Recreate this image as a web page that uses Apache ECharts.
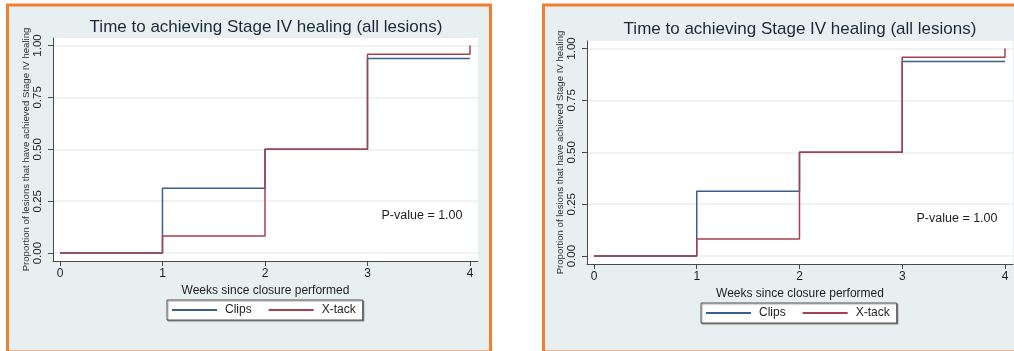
<!DOCTYPE html>
<html>
<head>
<meta charset="utf-8">
<script src="https://cdn.jsdelivr.net/npm/echarts@6/dist/echarts.min.js"></script>
<style>html,body{margin:0;padding:0;background:#fff;}#c{width:1014px;height:351px;}</style>
</head>
<body>
<div id="c"></div>
<script>
// ---- data ----
const weeks = [0, 1, 2, 3, 4];
const clipsProp = [0, 0.3125, 0.5, 0.9375, 0.9375];
const xtackProp = [0, 0.083, 0.5, 0.958, 1.0];
const xTicks = [0, 1, 2, 3, 4];
const yTicks = [0, 0.25, 0.5, 0.75, 1];
const seriesNames = ['Clips', 'X-tack'];
const titleText = 'Time to achieving Stage IV healing (all lesions)';
const xName = 'Weeks since closure performed';
const yName = 'Proportion of lesions that have achieved Stage IV healing';
const pText = 'P-value = 1.00';

const FONT = '"Liberation Sans", Arial, sans-serif';
const BLUE = '#3a5f8e';
const RED = '#a6404f';
const AX = '#4a4a4a';

const panels = [
  {grid: {left: 53, top: 38, width: 425, height: 223}, legend: {left: 167, top: 300}, px: 422, py: 216, tx: 266, ty: 27},
  {grid: {left: 587, top: 41, width: 426, height: 223}, legend: {left: 701, top: 303}, px: 957, py: 219, tx: 800, ty: 29}
];

const grids = [], xAxes = [], yAxes = [], series = [], legends = [], graphics = [];

graphics.push({type: 'rect', z: -10, shape: {x: 7.5, y: 5, width: 483, height: 347}, style: {fill: '#e7eff1', stroke: '#f07f2e', lineWidth: 3}});
graphics.push({type: 'rect', z: -10, shape: {x: 543.5, y: 5, width: 520, height: 347}, style: {fill: '#e7eff1', stroke: '#f07f2e', lineWidth: 3}});

panels.forEach((p, i) => {
  grids.push(Object.assign({show: true, backgroundColor: '#ffffff', borderWidth: 0}, p.grid));
  xAxes.push({
    type: 'value', gridIndex: i, min: -0.068, max: 4.078,
    name: xName, nameLocation: 'middle', nameGap: 20,
    nameTextStyle: {fontFamily: FONT, fontSize: 12, color: '#1e1e1e'},
    axisLine: {show: true, onZero: false, lineStyle: {color: AX, width: 1}},
    axisTick: {show: true, length: 5, customValues: xTicks, lineStyle: {color: AX}},
    axisLabel: {customValues: xTicks, margin: 7, fontFamily: FONT, fontSize: 12, color: '#1e1e1e'},
    splitLine: {show: false}
  });
  yAxes.push({
    type: 'value', gridIndex: i, min: -0.038, max: 1.036,
    name: yName, nameLocation: 'middle', nameGap: 22, nameRotate: 90,
    nameTextStyle: {fontFamily: FONT, fontSize: 9.6, color: '#333'},
    axisLine: {show: true, onZero: false, lineStyle: {color: AX, width: 1}},
    axisTick: {show: true, length: 5, customValues: yTicks, lineStyle: {color: AX}},
    axisLabel: {customValues: yTicks, rotate: 90, margin: 9, fontFamily: FONT, fontSize: 11.5, color: '#1e1e1e',
      formatter: v => v.toFixed(2)},
    splitLine: {show: true, lineStyle: {color: '#e9eff0', width: 1.5}}
  });
  const mk = (name, vals, color) => ({
    name: name, type: 'line', xAxisIndex: i, yAxisIndex: i, step: 'end', symbol: 'none',
    data: weeks.map((w, k) => [w, vals[k]]),
    lineStyle: {color: color, width: 1.5}, itemStyle: {color: color}, animation: false
  });
  series.push(mk(seriesNames[0], clipsProp, BLUE));
  series.push(mk(seriesNames[1], xtackProp, RED));
  legends.push({
    data: seriesNames, left: p.legend.left, top: p.legend.top, orient: 'horizontal',
    icon: 'rect', itemWidth: 45, itemHeight: 2, itemGap: 17,
    backgroundColor: '#ffffff', borderColor: '#555', borderWidth: 1, borderRadius: 0,
    shadowColor: 'rgba(0,0,0,0.35)', shadowOffsetX: 1, shadowOffsetY: 1, shadowBlur: 1,
    padding: [4, 7, 4, 5], selectedMode: false,
    textStyle: {fontFamily: FONT, fontSize: 12, color: '#1e1e1e', padding: [0, 0, 0, 3]}
  });
  graphics.push({type: 'text', z: 100, style: {text: titleText, x: p.tx, y: p.ty, textAlign: 'center', textVerticalAlign: 'middle', font: '17px ' + FONT, fill: '#1b2838'}});
  graphics.push({type: 'text', z: 100, style: {text: pText, x: p.px, y: p.py, textAlign: 'center', textVerticalAlign: 'middle', font: '12.5px ' + FONT, fill: '#1e1e1e'}});
});

const chart = echarts.init(document.getElementById('c'), null, {renderer: 'canvas'});
chart.setOption({
  animation: false,
  backgroundColor: '#ffffff',
  grid: grids, xAxis: xAxes, yAxis: yAxes, series: series, legend: legends,
  graphic: graphics
});
</script>
</body>
</html>
